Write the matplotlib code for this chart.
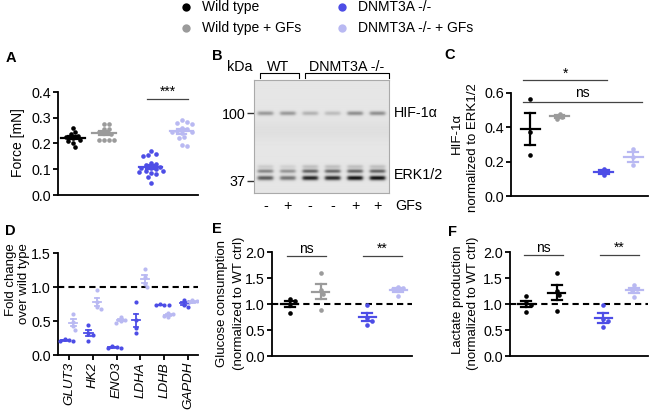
import numpy as np
import matplotlib
matplotlib.use("Agg")
import matplotlib.pyplot as plt

plt.rcParams["font.family"] = ["Liberation Sans", "DejaVu Sans"]
plt.rcParams["font.size"] = 9.5

# ---- data ----
groups = ["Wild type", "Wild type + GFs", "DNMT3A -/-", "DNMT3A -/- + GFs"]
colors = ["#000000", "#9b9b9b", "#4d4de6", "#b9b9f2"]
xpos = [0, 1, 2.5, 3.5]

# A: force
force_wt = [0.26, 0.245, 0.235, 0.23, 0.225, 0.22, 0.215, 0.21, 0.20, 0.185]
force_wt_gf = [0.275, 0.275, 0.255, 0.255, 0.245, 0.24, 0.235, 0.215, 0.215, 0.215, 0.215]
force_ko = [0.17, 0.16, 0.155, 0.15, 0.125, 0.12, 0.115, 0.11, 0.105, 0.105,
            0.10, 0.095, 0.095, 0.09, 0.085, 0.08, 0.07, 0.045]
force_ko_gf = [0.29, 0.285, 0.28, 0.275, 0.26, 0.255, 0.25, 0.245, 0.245, 0.24,
               0.225, 0.22, 0.195, 0.19]

# B: western blot band darkness per lane
gf_signs = ["-", "+", "-", "-", "+", "+"]
hif_band = [0.30, 0.30, 0.20, 0.16, 0.34, 0.34]
erk_top = [0.10, 0.08, 0.15, 0.15, 0.15, 0.15]
erk_mid = [0.38, 0.32, 0.52, 0.50, 0.52, 0.52]
erk_low = [0.55, 0.45, 0.78, 0.75, 0.85, 0.85]

# C: HIF-1a normalized
hif_wt = [0.565, 0.37, 0.24]
hif_wt_gf = [0.48, 0.46, 0.45]
hif_ko = [0.16, 0.14, 0.12]
hif_ko_gf = [0.275, 0.23, 0.18]

# D: fold change
genes = ["GLUT3", "HK2", "ENO3", "LDHA", "LDHB", "GAPDH"]
fold_ko = [[0.23, 0.22, 0.21, 0.21], [0.44, 0.33, 0.30, 0.21], [0.13, 0.12, 0.11, 0.10],
           [0.78, 0.52, 0.40, 0.33], [0.75, 0.74, 0.73, 0.73], [0.81, 0.78, 0.73, 0.71]]
fold_ko_gf = [[0.61, 0.49, 0.42, 0.37], [0.95, 0.78, 0.70, 0.68], [0.56, 0.52, 0.50, 0.47],
              [1.26, 1.15, 1.05, 1.00], [0.62, 0.60, 0.58, 0.56], [0.81, 0.79, 0.77, 0.76]]

# E: glucose consumption
glu = [[1.10, 1.05, 1.00, 0.83], [1.60, 1.27, 1.20, 0.89],
       [0.99, 0.73, 0.68, 0.60], [1.32, 1.30, 1.29, 1.16]]
# F: lactate production
lac = [[1.15, 1.02, 0.99, 0.85], [1.60, 1.25, 1.17, 0.86],
       [0.99, 0.72, 0.67, 0.55], [1.36, 1.28, 1.26, 1.14]]

W, H = 650, 411
fig = plt.figure(figsize=(6.5, 4.11), dpi=100)


def rect(l, t, r, b):
    return [l / W, 1 - b / H, (r - l) / W, (b - t) / H]


ov = fig.add_axes([0, 0, 1, 1])
ov.set_xlim(0, W)
ov.set_ylim(H, 0)
ov.axis("off")


def style(ax, xlim, ylim, yticks):
    ax.set_xlim(*xlim)
    ax.set_ylim(*ylim)
    ax.set_yticks(yticks)
    for s in ["top", "right"]:
        ax.spines[s].set_visible(False)
    for s in ["left", "bottom"]:
        ax.spines[s].set_linewidth(1.3)
    ax.tick_params(axis="y", length=3.5, width=1.3, pad=1.5, labelsize=10.3)
    ax.set_xticks([])
    ax.patch.set_alpha(0)


def swarm(ax, x0, ys, d):
    pts = ax.transData.transform(np.column_stack([np.full(len(ys), x0), ys]))
    xl = ax.get_xlim()
    x_per_px = (xl[1] - xl[0]) / ax.bbox.width
    order = np.argsort(-np.asarray(ys))
    placed = []
    offs = np.zeros(len(ys))
    for i in order:
        py = pts[i, 1]
        for k in [0, 1, -1, 2, -2, 3, -3, 4, -4, 5, -5, 6, -6]:
            ox = k * d * 0.55
            if all((ox - qx) ** 2 + (py - qy) ** 2 >= (d * 0.95) ** 2 for qx, qy in placed):
                break
        placed.append((ox, py))
        offs[i] = ox * x_per_px
    return x0 + offs


def dots(ax, x, ys, color, mean_w, cap_w, d=4.4, s=11, lw=1.6):
    ys = np.asarray(ys)
    xs = swarm(ax, x, ys, d)
    ax.scatter(xs, ys, s=s, color=color, linewidths=0, zorder=3)
    m = ys.mean()
    se = ys.std(ddof=1) / np.sqrt(len(ys))
    ax.plot([x - mean_w / 2, x + mean_w / 2], [m, m], color=color, lw=lw, zorder=4)
    ax.plot([x, x], [m - se, m + se], color=color, lw=lw, zorder=4)
    for v in (m - se, m + se):
        ax.plot([x - cap_w / 2, x + cap_w / 2], [v, v], color=color, lw=lw, zorder=4)


def sig(ax, x0, x1, y, text, ty):
    ax.plot([x0, x1], [y, y], color="#444444", lw=0.9, clip_on=False)
    ax.text((x0 + x1) / 2, ty, text, ha="center", va="center", fontsize=10, clip_on=False)


# ---- A ----
axA = fig.add_axes(rect(58, 92, 198, 195))
style(axA, (-0.48, 4.02), (0, 0.4), [0, 0.1, 0.2, 0.3, 0.4])
axA.set_yticklabels(["0.0", "0.1", "0.2", "0.3", "0.4"])
for x, ys, c in zip(xpos, [force_wt, force_wt_gf, force_ko, force_ko_gf], colors):
    dots(axA, x, ys, c, 0.75, 0.3)
sig(axA, 2.38, 3.7, 0.373, "***", 0.40)

# ---- B ----
axB = fig.add_axes(rect(254, 80, 389, 193))
gy, gx = np.mgrid[0:1:226j, 0.5:6.5:270j]
img = np.full(gy.shape, 0.9)
img -= 0.025 * np.exp(-((gy - 0.45) / 0.08) ** 2)
for y0, sg, vals in [(0.30, 0.013, hif_band), (0.77, 0.012, erk_top),
                     (0.81, 0.012, erk_mid), (0.87, 0.014, erk_low)]:
    for lane, v in enumerate(vals, start=1):
        xprof = 1 / (1 + np.exp((np.abs(gx - lane) - 0.34) / 0.04))
        img -= v * xprof * np.exp(-0.5 * ((gy - y0) / sg) ** 2)
axB.imshow(np.clip(img, 0, 1), cmap="gray", vmin=0, vmax=1, extent=(0.5, 6.5, 1, 0),
           aspect="auto", interpolation="bilinear")
axB.set_xlim(0.5, 6.5)
axB.set_ylim(1, 0)
axB.set_xticks([])
axB.set_yticks([0.295, 0.89])
axB.set_yticklabels(["100", "37"])
axB.tick_params(axis="y", length=5, width=1.0, color="#333333", pad=1, labelsize=10.3)
for s in axB.spines.values():
    s.set_color("#aaaaaa")
    s.set_linewidth(0.8)
axB.text(1.037, 0.295, "HIF-1α", transform=axB.get_yaxis_transform(), va="center", fontsize=10.3)
axB.text(1.037, 0.84, "ERK1/2", transform=axB.get_yaxis_transform(), va="center", fontsize=10.3)
for lane, sgn in enumerate(gf_signs, start=1):
    axB.text(lane, 1.115, sgn, ha="center", va="center", clip_on=False, fontsize=10.3)
ov.text(395, 206, "GFs", va="center", fontsize=10.3)
ov.text(240, 67, "kDa", ha="center", va="center", fontsize=10.3)
ov.text(278, 67, "WT", ha="center", va="center", fontsize=10.3)
ov.text(347, 67, "DNMT3A -/-", ha="center", va="center", fontsize=10.3)
ov.plot([260, 260, 299, 299], [78, 73.5, 73.5, 78], color="k", lw=0.8)
ov.plot([305, 305, 389, 389], [78, 73.5, 73.5, 78], color="k", lw=0.8)

# ---- C ----
axC = fig.add_axes(rect(511, 93, 648, 196))
style(axC, (-0.65, 4.0), (0, 0.6), [0, 0.2, 0.4, 0.6])
axC.set_yticklabels(["0.0", "0.2", "0.4", "0.6"])
for x, ys, c in zip(xpos, [hif_wt, hif_wt_gf, hif_ko, hif_ko_gf], colors):
    dots(axC, x, ys, c, 0.65, 0.33)
sig(axC, -0.24, 2.62, 0.674, "*", 0.712)
sig(axC, -0.24, 3.81, 0.548, "ns", 0.60)

# ---- D ----
axD = fig.add_axes(rect(58, 253, 198, 355))
style(axD, (-0.46, 5.42), (0, 1.5), [0, 0.5, 1.0, 1.5])
axD.set_yticklabels(["0.0", "0.5", "1.0", "1.5"])
axD.axhline(1.0, color="k", lw=1.5, ls=(0, (3, 2)), zorder=1)
for i in range(len(genes)):
    dots(axD, i - 0.18, fold_ko[i], colors[2], 0.34, 0.2, d=4.0, s=9, lw=1.3)
    dots(axD, i + 0.18, fold_ko_gf[i], colors[3], 0.34, 0.2, d=4.0, s=9, lw=1.3)
axD.set_xticks(range(len(genes)))
axD.set_xticklabels(genes, rotation=90, fontstyle="italic", fontsize=9.6)
axD.tick_params(axis="x", length=3.5, width=1.3, pad=1.5)

# ---- E ----
axE = fig.add_axes(rect(272, 252, 412, 356))
style(axE, (-0.58, 3.95), (0, 2.0), [0, 0.5, 1.0, 1.5, 2.0])
axE.set_yticklabels(["0.0", "0.5", "1.0", "1.5", "2.0"])
axE.axhline(1.0, color="k", lw=1.5, ls=(0, (3, 2)), zorder=1)
for x, ys, c in zip(xpos, glu, colors):
    dots(axE, x, ys, c, 0.55, 0.32)
sig(axE, -0.1, 1.17, 1.92, "ns", 2.06)
sig(axE, 2.36, 3.62, 1.92, "**", 2.06)

# ---- F ----
axF = fig.add_axes(rect(510, 252, 648, 356))
style(axF, (-0.52, 3.95), (0, 2.0), [0, 0.5, 1.0, 1.5, 2.0])
axF.set_yticklabels(["0.0", "0.5", "1.0", "1.5", "2.0"])
axF.axhline(1.0, color="k", lw=1.5, ls=(0, (3, 2)), zorder=1)
for x, ys, c in zip(xpos, lac, ["#000000", "#000000", colors[2], colors[3]]):
    dots(axF, x, ys, c, 0.55, 0.32)
sig(axF, -0.06, 1.19, 1.94, "ns", 2.08)
sig(axF, 2.39, 3.66, 1.94, "**", 2.08)

# ---- axis titles ----
ov.text(18, 143, "Force [mN]", rotation=90, ha="center", va="center", fontsize=10)
ov.text(457, 133, "HIF-1α", rotation=90, ha="center", va="center")
ov.text(473, 148, "normalized to ERK1/2", rotation=90, ha="center", va="center")
ov.text(11, 280, "Fold change", rotation=90, ha="center", va="center", fontsize=9.5)
ov.text(24, 284, "over wild type", rotation=90, ha="center", va="center", fontsize=9.5)
ov.text(222, 303, "Glucose consumption", rotation=90, ha="center", va="center", fontsize=9.5)
ov.text(239, 303, "(normalized to WT ctrl)", rotation=90, ha="center", va="center", fontsize=9.5)
ov.text(458, 300, "Lactate production", rotation=90, ha="center", va="center", fontsize=9.5)
ov.text(473, 303, "(normalized to WT ctrl)", rotation=90, ha="center", va="center", fontsize=9.5)

# ---- panel letters ----
for lbl, x, y in [("A", 6, 58), ("B", 212, 56), ("C", 444, 55),
                  ("D", 5, 231), ("E", 212, 229), ("F", 448, 232)]:
    ov.text(x, y, lbl, fontweight="bold", fontsize=10.5, ha="left", va="center")

# ---- legend ----
for (lx, ly), lbl, c in zip([(186, 7), (186, 28), (342, 7), (342, 28)], groups, colors):
    ov.plot(lx, ly, "o", ms=6, color=c, mec="none")
    ov.text(lx + 16, ly, lbl, va="center", fontsize=10)

fig.savefig("out.png", dpi=100)
